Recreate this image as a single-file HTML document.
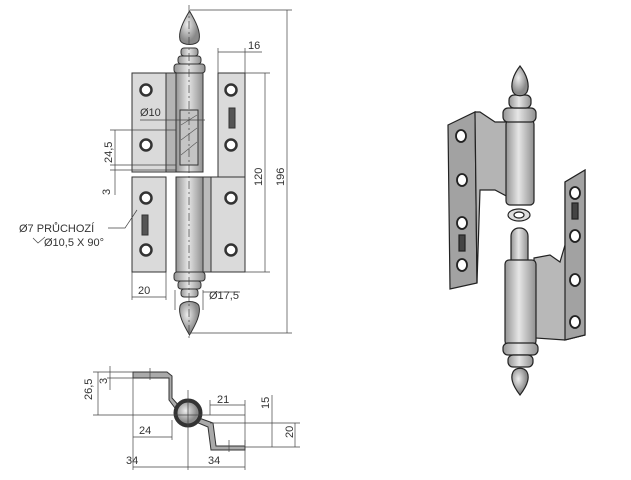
<!DOCTYPE html>
<html><head><meta charset="utf-8"><style>
html,body{margin:0;padding:0;background:#fff;}
svg{display:block}
text{font-family:"Liberation Sans",sans-serif;fill:#333;font-size:11px}
</style></head><body>
<svg width="631" height="480" viewBox="0 0 631 480" xmlns="http://www.w3.org/2000/svg">
<defs>
<linearGradient id="bar" x1="0" x2="1"><stop offset="0" stop-color="#949494"/><stop offset=".45" stop-color="#e6e6e6"/><stop offset="1" stop-color="#909090"/></linearGradient>
<radialGradient id="ball" cx=".4" cy=".4"><stop offset="0" stop-color="#eee"/><stop offset="1" stop-color="#8a8a8a"/></radialGradient>
</defs>
<g stroke="#333" stroke-width="1">
<!-- FRONT VIEW -->
<rect x="132" y="73" width="44" height="99" fill="#dadada"/>
<rect x="166" y="73" width="10" height="99" fill="#b4b4b4"/>
<rect x="132" y="177" width="34" height="95" fill="#dadada"/>
<rect x="218" y="73" width="27" height="104" fill="#dadada"/>
<rect x="210" y="177" width="35" height="95" fill="#dadada"/>
<rect x="203" y="177" width="8" height="95" fill="#bbb"/>
<rect x="176" y="73" width="27" height="99" fill="url(#bar)"/>
<rect x="176" y="177" width="27" height="95" fill="url(#bar)"/>
<rect x="180" y="110" width="18" height="55" fill="#c4c4c4"/>
<path d="M181 125 L197 115 M181 140 L197 128 M181 155 L197 142" stroke="#555" stroke-width=".6"/>
<rect x="174" y="64" width="31" height="9" rx="3" fill="url(#bar)"/>
<rect x="178" y="56" width="23" height="8" rx="3" fill="url(#bar)"/>
<rect x="181" y="48" width="17" height="8" rx="3" fill="url(#bar)"/>
<path d="M189.5 11 C183 22 178 32 180 40 C182 46 197 46 199 40 C201 32 196 22 189.5 11Z" fill="url(#ball)"/>
<rect x="174" y="272" width="31" height="9" rx="3" fill="url(#bar)"/>
<rect x="178" y="281" width="23" height="8" rx="3" fill="url(#bar)"/>
<rect x="181" y="289" width="17" height="8" rx="3" fill="url(#bar)"/>
<path d="M189.5 335 C183 324 178 314 180 306 C182 300 197 300 199 306 C201 314 196 324 189.5 335Z" fill="url(#ball)"/>
<g fill="#fff" stroke="#333" stroke-width="2.5">
<circle cx="146" cy="90" r="5.5"/><circle cx="146" cy="145" r="5.5"/><circle cx="146" cy="198" r="5.5"/><circle cx="146" cy="250" r="5.5"/>
<circle cx="231" cy="90" r="5.5"/><circle cx="231" cy="145" r="5.5"/><circle cx="231" cy="198" r="5.5"/><circle cx="231" cy="250" r="5.5"/>
</g>
<rect x="229" y="108" width="6" height="20" fill="#555"/>
<rect x="142" y="215" width="6" height="20" fill="#555"/>
</g>
<g stroke="#444" stroke-width=".7" fill="none">
<path d="M190 10 H292 M190 333 H292 M287 10 V333"/>
<path d="M245 73 H270 M245 272 H270 M265 73 V272"/>
<path d="M218 48 V73 M245 48 V73 M218 52 H262"/>
<path d="M132 272 V300 M166 272 V300 M132 297 H166"/>
<path d="M110 130 H176 M110 165 H176 M110 170 H176 M115 130 V195"/>
<path d="M140 120 H205"/>
<path d="M189 5 V340" stroke-dasharray="8 3 2 3"/>
<path d="M203 292 H240 M175 290 V310 M203 290 V310"/>
<path d="M137 210 L125 228 H108"/>
<path d="M33 238 L38 243 L45 237"/>
</g>
<text x="248" y="49">16</text>
<text x="140" y="116">Ø10</text>
<text x="138" y="294">20</text>
<text x="209" y="299">Ø17,5</text>
<text x="19" y="232">Ø7 PRŮCHOZÍ</text>
<text x="44" y="246">Ø10,5 X 90°</text>
<text transform="translate(112,163) rotate(-90)">24,5</text>
<text transform="translate(110,195) rotate(-90)">3</text>
<text transform="translate(262,186) rotate(-90)">120</text>
<text transform="translate(284,186) rotate(-90)">196</text>
<g stroke="#333" stroke-width="1" fill="#aaa">
<path d="M133 372 H167 L172 376 L172 398 L181 408 L178 412 L169 400 L169 378 L133 378Z"/>
<path d="M199 418 L213 423 L216 446 H245 V450 H211 L208 427 L196 422Z"/>
<circle cx="188" cy="413" r="14" fill="#333"/>
<circle cx="188" cy="413" r="11" fill="url(#ball)"/>
</g>
<g stroke="#444" stroke-width=".7" fill="none">
<path d="M93 372 H133 M93 415 H245 M98 372 V415 M110 366 V390 M107 372 H133 M107 378 H133"/>
<path d="M133 372 V470 M172 420 V440 M133 437 H172"/>
<path d="M188 390 V470 M133 467 H245 M245 440 V470"/>
<path d="M210 405 H245 M210 400 V415 M245 400 V445"/>
<path d="M210 423 H300 M245 447 H300 M272 395 V447 M295 423 V447"/>
<path d="M150 368 V380 M229 440 V452"/>
</g>
<text x="139" y="434">24</text>
<text x="217" y="403">21</text>
<text x="126" y="464">34</text>
<text x="208" y="464">34</text>
<text transform="translate(92,400) rotate(-90)">26,5</text>
<text transform="translate(107,384) rotate(-90)">3</text>
<text transform="translate(269,409) rotate(-90)">15</text>
<text transform="translate(293,438) rotate(-90)">20</text>
<!-- 3D VIEW -->
<g stroke="#222" stroke-width="1.2">
<path d="M448 125 L475 112 L477 283 L450 289Z" fill="#a2a2a2"/>
<path d="M475 112 L480 112 L495 122 L510 122 L510 198 L495 190 L480 190 L477 283 Z" fill="#b4b4b4"/>
<rect x="506" y="120" width="28" height="85" rx="4" fill="url(#bar)"/>
<rect x="503" y="108" width="33" height="14" rx="5" fill="url(#bar)"/>
<rect x="509" y="95" width="22" height="13" rx="5" fill="url(#bar)"/>
<path d="M520 66 C513 75 510 85 513 92 C516 97 524 97 527 92 C530 85 527 75 520 66Z" fill="url(#ball)"/>
<ellipse cx="519" cy="215" rx="11" ry="6" fill="#ddd"/><ellipse cx="519" cy="215" rx="5" ry="3" fill="#fff"/>
<rect x="511" y="228" width="17" height="42" rx="8" fill="url(#bar)"/>
<path d="M534 258 L550 255 L560 262 L565 245 L565 182 L585 170 L585 335 L565 340 L535 338Z" fill="#b8b8b8"/>
<path d="M565 182 L585 170 L585 335 L565 340Z" fill="#a2a2a2"/>
<rect x="505" y="260" width="31" height="85" rx="4" fill="url(#bar)"/>
<rect x="503" y="343" width="35" height="12" rx="5" fill="url(#bar)"/>
<rect x="508" y="355" width="25" height="12" rx="5" fill="url(#bar)"/>
<path d="M520 395 C513 386 510 378 513 372 C516 367 524 367 527 372 C530 378 527 386 520 395Z" fill="url(#ball)"/>
<g fill="#fff" stroke-width="1.8">
<ellipse cx="461" cy="136" rx="5" ry="6"/><ellipse cx="462" cy="180" rx="5" ry="6"/><ellipse cx="462" cy="223" rx="5" ry="6"/><ellipse cx="462" cy="265" rx="5" ry="6"/>
<ellipse cx="575" cy="193" rx="5" ry="6"/><ellipse cx="575" cy="236" rx="5" ry="6"/><ellipse cx="575" cy="280" rx="5" ry="6"/><ellipse cx="575" cy="322" rx="5" ry="6"/>
</g>
<rect x="459" y="235" width="6" height="16" fill="#444"/>
<rect x="572" y="203" width="6" height="16" fill="#444"/>
</g>
</svg>
</body></html>
